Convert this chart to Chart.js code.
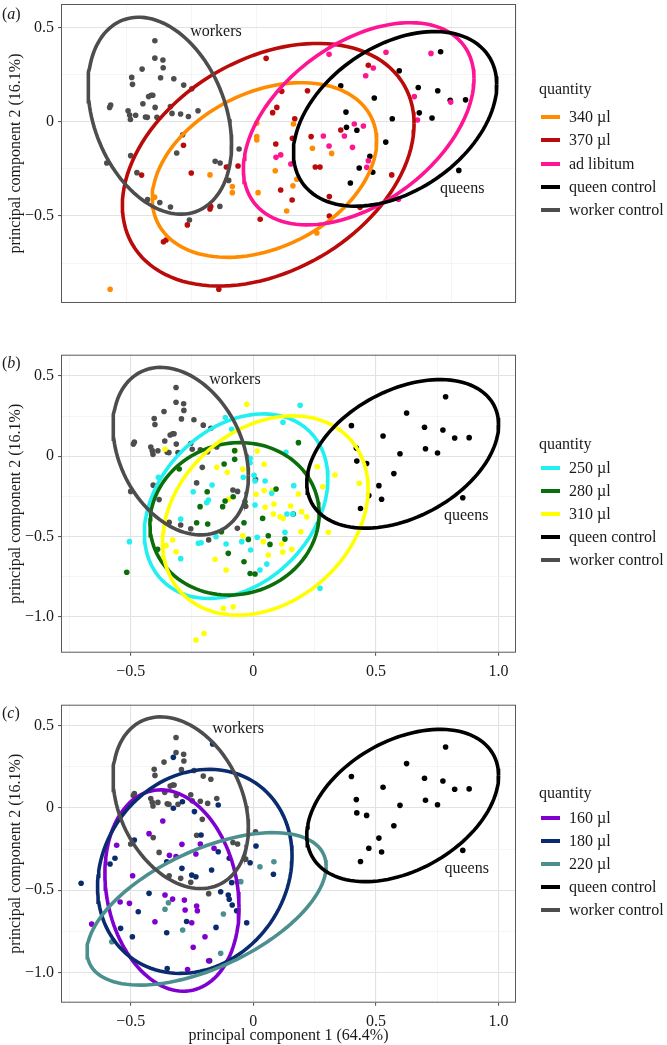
<!DOCTYPE html>
<html>
<head>
<meta charset="utf-8">
<script src="https://cdn.jsdelivr.net/npm/chart.js@4.4.1/dist/chart.umd.min.js"></script>
<style>
  body { margin: 0; background: #fff; }
  #page { position: relative; width: 667px; height: 1045px; overflow: hidden;
          font-family: "Liberation Serif", "DejaVu Serif", serif; color: #1a1a1a; }
  canvas { position: absolute; left: 0; }
  .tag { position: absolute; left: 2px; font-size: 16px; line-height: 20px; }
  .lg-title, .lg-text { position: absolute; font-size: 16px; line-height: 20px; white-space: nowrap; }
  .lg-sw { position: absolute; left: 541px; width: 19px; height: 4px; }
</style>
</head>
<body>
<div id="page">
  <canvas id="chartA" width="667" height="340" style="top:0px"></canvas>
  <canvas id="chartB" width="667" height="350" style="top:340px"></canvas>
  <canvas id="chartC" width="667" height="355" style="top:690px"></canvas>
  <div class="tag" style="top:4px">(<i>a</i>)</div>
  <div class="tag" style="top:353px">(<i>b</i>)</div>
  <div class="tag" style="top:703px">(<i>c</i>)</div>
</div>
<script>
// --- control groups (same in all three panels) ---
const ptsWorker = [[-0.315,0.429],[-0.315,0.337],[-0.284,0.327],[-0.283,0.286],[-0.364,0.279],[-0.293,0.233],
  [-0.242,0.228],[-0.404,0.235],[-0.401,0.198],[-0.204,0.194],[-0.173,0.175],[-0.329,0.140],[-0.323,0.140],
  [-0.339,0.133],[-0.361,0.095],[-0.314,0.076],[-0.255,0.080],[-0.149,0.058],[-0.418,0.058],[-0.412,0.035],
  [-0.389,0.034],[-0.351,0.025],[-0.344,0.023],[-0.307,0.023],[-0.249,0.044],[-0.216,0.041],[-0.186,0.028],
  [-0.485,0.088],[-0.489,0.076],[-0.409,0.012],[-0.208,-0.069],[-0.231,-0.166],[-0.408,-0.180],[0.009,-0.145],
  [-0.083,-0.210],[-0.064,-0.219],[-0.031,-0.311],[-0.500,-0.219],[-0.384,-0.270],[-0.343,-0.412],
  [-0.296,-0.428],[-0.255,-0.452],[-0.182,-0.521],[-0.065,-0.449]];
const ptsQueen = [[0.784,0.371],[0.625,0.270],[0.400,0.191],[0.698,0.181],[0.773,0.164],[0.529,0.126],
  [0.821,0.114],[0.880,0.116],[0.420,0.051],[0.702,0.047],[0.598,0.016],[0.751,0.020],[0.422,-0.030],
  [0.462,-0.045],[0.573,-0.108],[0.512,-0.183],[0.471,-0.245],[0.523,-0.268],[0.854,-0.258],[0.437,-0.325]];

// --- panel (a) ---
const pts340 = [[0.218,-0.012],[0.077,-0.008],[0.077,-0.079],[0.077,-0.097],[0.291,-0.141],[0.365,-0.168],
  [-0.103,-0.282],[0.148,-0.260],[0.231,-0.305],[0.216,-0.340],[-0.017,-0.344],[-0.017,-0.376],[0.082,-0.376],
  [0.192,-0.473],[0.308,-0.590],[-0.487,-0.888],[-0.316,-0.400]];
const pts370 = [[0.113,0.336],[0.173,0.161],[0.272,0.164],[0.154,0.076],[0.138,0.048],[0.223,0.016],
  [0.214,-0.088],[0.286,-0.079],[0.150,-0.118],[-0.205,-0.125],[0.005,-0.235],[-0.040,-0.240],[-0.175,-0.272],
  [0.302,-0.240],[0.320,-0.240],[0.169,-0.362],[0.213,-0.415],[-0.103,-0.463],[-0.100,-0.450],[0.090,-0.517],
  [-0.190,-0.547],[-0.282,-0.636],[-0.272,-0.627],[-0.069,-0.888],[0.506,0.299],[0.400,-0.044],[0.356,-0.397],
  [0.356,-0.500],[0.596,-0.282],[0.474,-0.454],[-0.366,-0.283]];
const ptsAdLib = [[0.355,0.357],[0.574,0.368],[0.747,0.362],[0.496,0.244],[0.525,0.285],[0.683,0.133],
  [0.823,0.104],[0.695,0.009],[0.452,-0.012],[0.487,-0.023],[0.414,-0.076],[0.333,-0.076],[0.355,-0.129],
  [0.445,-0.136],[0.506,-0.207],[0.500,-0.242],[0.622,-0.411],[0.151,-0.189],[0.169,-0.176],[0.208,-0.224]];

// --- panel (b) ---
const pts250 = [[0.191,0.318],[-0.114,0.241],[-0.088,0.168],[0.121,0.212],[0.133,0.025],[-0.013,-0.012],
  [-0.013,-0.040],[-0.041,-0.131],[0.003,-0.118],[0.007,-0.154],[0.048,-0.154],[0.165,-0.183],[-0.387,-0.131],
  [-0.245,-0.221],[-0.168,-0.179],[-0.183,-0.272],[-0.190,-0.289],[0.075,-0.231],[0.007,-0.304],[-0.296,-0.391],
  [0.161,-0.360],[0.137,-0.360],[-0.505,-0.532],[-0.224,-0.542],[-0.213,-0.539],[-0.152,-0.501],[-0.111,-0.547],
  [-0.047,-0.532],[0.016,-0.505],[0.129,-0.474],[-0.011,-0.584],[-0.296,-0.638],[0.055,-0.672],[0.027,-0.709],
  [0.272,-0.823]];
const pts280 = [[0.184,0.085],[-0.076,0.035],[-0.119,-0.048],[-0.076,-0.019],[-0.302,-0.079],[-0.188,-0.221],
  [-0.217,-0.314],[-0.125,-0.314],[-0.115,-0.279],[-0.231,-0.414],[-0.186,-0.422],[-0.130,-0.470],[-0.082,-0.252],
  [0.093,-0.204],[-0.034,-0.283],[0.038,-0.387],[-0.038,-0.414],[-0.020,-0.518],[0.061,-0.495],[0.068,-0.549],
  [0.129,-0.516],[0.163,-0.360],[-0.038,-0.657],[-0.102,-0.605],[-0.013,-0.730],[0.007,-0.734],[-0.516,-0.723],
  [-0.390,-0.580]];
const pts310 = [[-0.027,0.324],[-0.360,0.044],[-0.075,0.035],[0.016,0.033],[0.044,-0.050],[-0.043,-0.081],
  [-0.149,-0.069],[-0.106,-0.100],[0.011,-0.237],[0.044,-0.214],[0.078,-0.214],[0.048,-0.318],[0.084,-0.297],
  [0.082,-0.360],[0.109,-0.377],[0.122,-0.387],[0.152,-0.310],[0.184,-0.235],[0.197,-0.345],[0.218,-0.377],
  [0.194,-0.470],[-0.043,-0.495],[0.041,-0.532],[0.116,-0.547],[0.120,-0.597],[0.157,-0.580],[0.061,-0.615],
  [0.261,-0.065],[0.283,-0.190],[0.333,-0.117],[0.306,-0.474],[0.432,-0.168],[-0.329,-0.522],[-0.315,-0.595],
  [-0.356,-0.557],[-0.156,-0.642],[-0.111,-0.709],[-0.122,-0.948],[-0.082,-0.938],[-0.234,-1.145],
  [-0.201,-1.104],[-0.101,-0.268]];

// --- panel (c) ---
const pts160 = [[-0.369,-0.079],[-0.425,-0.156],[-0.557,-0.227],[-0.291,-0.221],[-0.234,-0.280],[-0.342,-0.288],
  [-0.315,-0.296],[-0.492,-0.412],[-0.543,-0.572],[-0.505,-0.580],[-0.360,-0.529],[-0.329,-0.554],[-0.281,-0.560],
  [-0.278,-0.620],[-0.231,-0.596],[-0.228,-0.625],[-0.401,-0.692],[-0.251,-0.698],[-0.659,-0.706],[-0.197,-0.783],
  [-0.245,-0.847],[-0.182,-0.929],[-0.268,-0.982],[-0.160,-0.245],[-0.216,-0.219]];
const pts180 = [[-0.166,0.389],[-0.326,0.308],[-0.289,0.038],[-0.326,-0.002],[-0.143,0.018],[-0.240,-0.022],
  [-0.485,-0.195],[-0.213,-0.164],[-0.564,-0.306],[-0.584,-0.341],[-0.702,-0.458],[-0.143,-0.266],[-0.098,-0.306],
  [0.011,-0.231],[-0.013,-0.333],[0.082,-0.403],[-0.170,-0.377],[-0.234,-0.418],[-0.251,-0.408],[-0.291,-0.367],
  [-0.353,-0.327],[-0.088,-0.454],[-0.133,-0.509],[-0.102,-0.529],[-0.098,-0.555],[-0.086,-0.590],[-0.068,-0.625],
  [-0.027,-0.698],[-0.152,-0.726],[-0.425,-0.519],[-0.469,-0.631],[-0.272,-0.690],[-0.541,-0.732],[-0.353,-0.759],
  [-0.493,-0.783],[-0.178,-0.929],[-0.351,-0.976]];
const pts220 = [[0.027,-0.357],[0.084,-0.327],[-0.051,-0.448],[-0.346,-0.576],[-0.360,-0.616],[-0.122,-0.645],
  [-0.288,-0.742],[-0.133,-0.884],[-0.577,-0.813]];

// ellipses as [cx, cy, half-width in x, half-height in y, phase]
const ellWorker = [-0.296, 0.032, 0.276, 0.522, 1.87];
const ellQueen  = [0.609, 0.015, 0.391, 0.463, 1.17];
const ell340    = [0.1065, -0.256, 0.4315, 0.463, 1.234];
const ell370    = [0.121, -0.228, 0.561, 0.643, 1.227];
const ellAdLib  = [0.469, -0.011, 0.4435, 0.536, 1.108];
const ell250    = [-0.070, -0.311, 0.374, 0.575, 1.27];
const ell280    = [-0.0765, -0.390, 0.345, 0.475, 1.506];
const ell310    = [0.049, -0.369, 0.419, 0.621, 1.30];
const ell160    = [-0.3315, -0.502, 0.2735, 0.612, 1.742];
const ell180    = [-0.2385, -0.3855, 0.3965, 0.6205, 1.42];
const ell220    = [-0.1905, -0.6135, 0.4875, 0.4635, 0.98];

const namesA = ['340 µl', '370 µl', 'ad libitum', 'queen control', 'worker control'];
const namesB = ['250 µl', '280 µl', '310 µl', 'queen control', 'worker control'];
const namesC = ['160 µl', '180 µl', '220 µl', 'queen control', 'worker control'];

const FONT = '"Liberation Serif", "DejaVu Serif", serif';

function isMajor(v) { return Math.abs(v * 2 - Math.round(v * 2)) < 1e-6; }
function fmt(v) {
  if (Math.abs(v) < 1e-9) return '0';
  return (v < 0 ? '\u2212' : '') + Math.abs(v).toFixed(1);
}
function toXY(arr) { return arr.map(p => ({x: p[0], y: p[1]})); }
function ellipse(e) {
  const out = [];
  for (let i = 0; i <= 120; i++) {
    const t = i / 120 * 2 * Math.PI;
    out.push({x: e[0] + e[2] * Math.cos(t), y: e[1] + e[3] * Math.cos(t + e[4])});
  }
  return out;
}

// frame around the panel + "workers"/"queens" labels
const framePlugin = {
  id: 'frame',
  afterDatasetsDraw(chart, args, opts) {
    const {ctx, chartArea: a} = chart;
    ctx.save();
    ctx.strokeStyle = '#595959';
    ctx.lineWidth = 1;
    ctx.strokeRect(a.left + 0.5, a.top + 0.5, a.right - a.left - 1, a.bottom - a.top - 1);
    ctx.font = '16px ' + FONT;
    ctx.fillStyle = '#1a1a1a';
    ctx.textAlign = 'center';
    ctx.textBaseline = 'middle';
    (opts.notes || []).forEach(n => {
      ctx.fillText(n.text, chart.scales.x.getPixelForValue(n.x), chart.scales.y.getPixelForValue(n.y));
    });
    ctx.restore();
  }
};

function gridOpts() {
  return {
    color: c => (c.tick && isMajor(c.tick.value)) ? '#e2e2e2' : '#f1f1f1',
    lineWidth: c => (c.tick && isMajor(c.tick.value)) ? 1.1 : 0.7,
    tickColor: c => (c.tick && isMajor(c.tick.value)) ? '#595959' : 'rgba(0,0,0,0)',
    tickLength: 3,
    drawTicks: true
  };
}

function makePanel(id, p) {
  const datasets = [];
  p.groups.forEach((g, i) => {
    datasets.push({
      type: 'scatter', label: g.name, data: toXY(g.pts), order: 20 + i,
      backgroundColor: g.color, borderWidth: 0, pointRadius: 2.8, pointHoverRadius: 2.8
    });
    datasets.push({
      type: 'scatter', label: g.name + ' ellipse', data: ellipse(g.ell), order: 10 - i,
      showLine: true, borderColor: g.color, borderWidth: 3.6, pointRadius: 0, fill: false, tension: 0
    });
  });
  const canvas = document.getElementById(id);
  const H = canvas.height;
  new Chart(canvas, {
    type: 'scatter',
    data: {datasets},
    plugins: [framePlugin],
    options: {
      responsive: false, animation: false, devicePixelRatio: 1,
      layout: {padding: {top: p.top, right: 151, bottom: 0, left: 0}},
      plugins: {legend: {display: false}, tooltip: {enabled: false}, frame: {notes: p.notes}},
      scales: {
        x: {
          type: 'linear', min: p.xMin, max: p.xMax,
          border: {display: false},
          grid: gridOpts(),
          ticks: {stepSize: 0.25, includeBounds: false, autoSkip: false, maxRotation: 0, padding: 6,
                  color: '#1a1a1a', font: {family: FONT, size: 16}, callback: v => isMajor(v) ? fmt(v) : ''},
          title: {display: p.xTitle, text: 'principal component 1 (64.4%)', color: '#1a1a1a',
                  font: {family: FONT, size: 16}, padding: {top: 0, bottom: 0}},
          afterFit: s => { s.height = H - p.bottom; s.paddingLeft = 0; s.paddingRight = 0; }
        },
        y: {
          type: 'linear', min: p.yMin, max: p.yMax,
          border: {display: false},
          grid: gridOpts(),
          ticks: {stepSize: 0.25, includeBounds: false, autoSkip: false, padding: 4,
                  color: '#1a1a1a', font: {family: FONT, size: 16}, callback: v => isMajor(v) ? fmt(v) : ''},
          title: {display: true, text: 'principal component 2 (16.1%)', color: '#1a1a1a',
                  font: {family: FONT, size: 16}, padding: {top: 6, bottom: 0}},
          afterFit: s => { s.width = 61; s.paddingTop = 0; s.paddingBottom = 0; }
        }
      }
    }
  });
}

function makeLegend(groups, pageTop, titleY, firstY) {
  const page = document.getElementById('page');
  const t = document.createElement('div');
  t.className = 'lg-title';
  t.style.left = '539px';
  t.style.top = (pageTop + titleY - 10) + 'px';
  t.textContent = 'quantity';
  page.appendChild(t);
  groups.forEach((g, i) => {
    const y = pageTop + firstY + i * 23.1;
    const sw = document.createElement('div');
    sw.className = 'lg-sw';
    sw.style.top = (y - 2) + 'px';
    sw.style.background = g.color;
    page.appendChild(sw);
    const tx = document.createElement('div');
    tx.className = 'lg-text';
    tx.style.left = '569px';
    tx.style.top = (y - 10) + 'px';
    tx.textContent = g.name;
    page.appendChild(tx);
  });
}

const workerCol = '#4d4d4d', queenCol = '#000000';

const groupsA = [
  {name: namesA[0], pts: pts340, ell: ell340, color: '#ff8c00'},
  {name: namesA[1], pts: pts370, ell: ell370, color: '#bb0a0a'},
  {name: namesA[2], pts: ptsAdLib, ell: ellAdLib, color: '#ff1493'},
  {name: namesA[3], pts: ptsQueen, ell: ellQueen, color: queenCol},
  {name: namesA[4], pts: ptsWorker, ell: ellWorker, color: workerCol}
];
const groupsB = [
  {name: namesB[0], pts: pts250, ell: ell250, color: '#22f0f0'},
  {name: namesB[1], pts: pts280, ell: ell280, color: '#0a6e0a'},
  {name: namesB[2], pts: pts310, ell: ell310, color: '#ffff00'},
  {name: namesB[3], pts: ptsQueen, ell: ellQueen, color: queenCol},
  {name: namesB[4], pts: ptsWorker, ell: ellWorker, color: workerCol}
];
const groupsC = [
  {name: namesC[0], pts: pts160, ell: ell160, color: '#8000d0'},
  {name: namesC[1], pts: pts180, ell: ell180, color: '#0a2c6e'},
  {name: namesC[2], pts: pts220, ell: ell220, color: '#4b8f8f'},
  {name: namesC[3], pts: ptsQueen, ell: ellQueen, color: queenCol},
  {name: namesC[4], pts: ptsWorker, ell: ellWorker, color: workerCol}
];

makePanel('chartA', {groups: groupsA, xMin: -0.676, xMax: 1.074, yMin: -0.961, yMax: 0.624,
  top: 4, bottom: 303, xTitle: false,
  notes: [{text: 'workers', x: -0.08, y: 0.477}, {text: 'queens', x: 0.867, y: -0.353}]});
makePanel('chartB', {groups: groupsB, xMin: -0.784, xMax: 1.071, yMin: -1.224, yMax: 0.633,
  top: 14.7, bottom: 312.7, xTitle: false,
  notes: [{text: 'workers', x: -0.075, y: 0.476}, {text: 'queens', x: 0.868, y: -0.372}]});
makePanel('chartC', {groups: groupsC, xMin: -0.784, xMax: 1.071, yMin: -1.184, yMax: 0.628,
  top: 14.7, bottom: 312.7, xTitle: true,
  notes: [{text: 'workers', x: -0.062, y: 0.48}, {text: 'queens', x: 0.870, y: -0.367}]});

makeLegend(groupsA, 0, 89, 117.3);
makeLegend(groupsB, 340, 104.3, 127.7);
makeLegend(groupsC, 690, 103.3, 127.7);
</script>
</body>
</html>
